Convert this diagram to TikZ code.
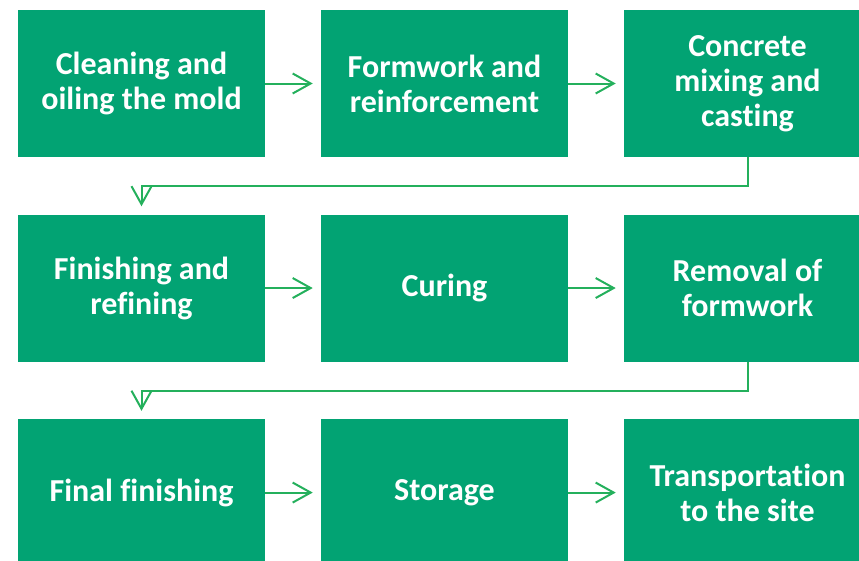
\documentclass[tikz,border=0pt]{standalone}
\usepackage{fontspec}
\setmainfont{Carlito}[Ligatures=NoCommon]
\usetikzlibrary{arrows.meta, positioning}

\definecolor{boxgreen}{RGB}{2,163,115}
\definecolor{linegreen}{RGB}{36,176,92}

\tikzset{
  stage/.style={fill=boxgreen, text=white, align=center, inner sep=0pt,
    minimum width=185.25pt, minimum height=110.25pt,
    font=\bfseries\fontsize{24}{26.25}\selectfont},
  flow/.style={draw=linegreen, line width=1.5pt, shorten >=6pt,
    -{Straight Barb[length=13.5pt, width=15pt]}},
}

\begin{document}
\begin{tikzpicture}[node distance=42.75pt and 41.6pt]

%Frame
\useasboundingbox (0,0) rectangle (644.25pt,-420pt);
\clip (0,0) rectangle (644.25pt,-420pt);

%Row 1
\node[stage] (clean) at (106.125pt,-62.625pt) {Cleaning and\\oiling the mold};
\node[stage, right=of clean] (form) {Formwork and\\reinforcement};
\node[stage, right=of form] (cast) {Concrete\\mixing and\\casting};

%Row 2
\node[stage, below=of clean] (finish) {Finishing and\\refining};
\node[stage, right=of finish] (cure) {Curing};
\node[stage, right=of cure] (remove) {Removal of\\formwork};

%Row 3
\node[stage, below=of finish] (final) {Final finishing};
\node[stage, right=of final] (store) {Storage};
\node[stage, right=of store] (transport) {Transportation\\to the site};

%Arrows
\draw[flow] (clean) -- (form);
\draw[flow] (form) -- (cast);
\draw[flow] (cast.south) -- ++(0,-21.75pt) -| (finish.north);
\draw[flow] (finish) -- (cure);
\draw[flow] (cure) -- (remove);
\draw[flow] (remove.south) -- ++(0,-21.75pt) -| (final.north);
\draw[flow] (final) -- (store);
\draw[flow] (store) -- (transport);

\end{tikzpicture}
\end{document}
